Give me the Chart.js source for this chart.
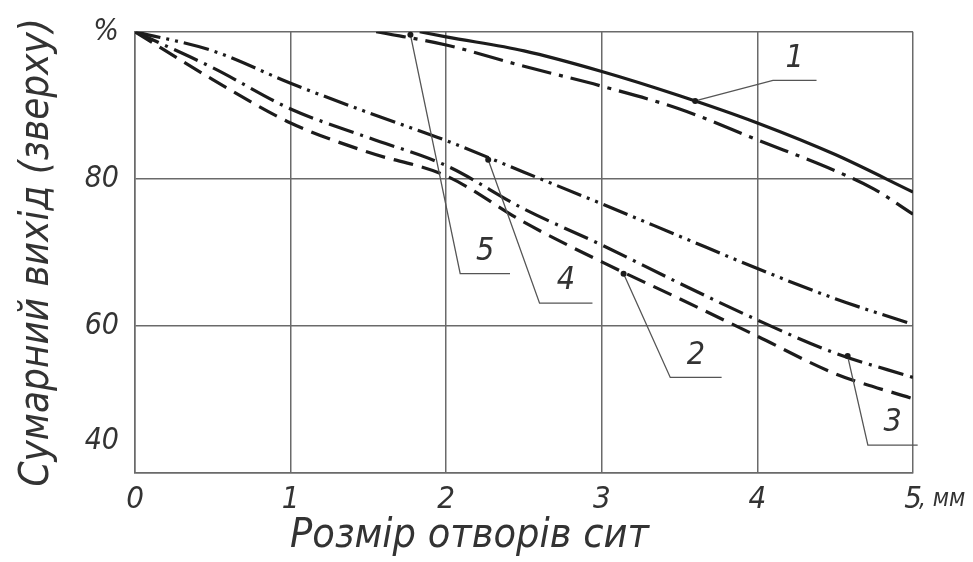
<!DOCTYPE html>
<html>
<head>
<meta charset="utf-8">
<script src="https://cdn.jsdelivr.net/npm/chart.js@4.4.1/dist/chart.umd.min.js"></script>
<style>
  html, body { margin: 0; padding: 0; background: #fff; }
  #wrap { width: 973px; height: 562px; }
</style>
</head>
<body>
<div id="wrap"><canvas id="sitaChart"></canvas></div>
<script>
// Розмір отворів сит, мм
const sieveSize = [0, 0.5, 1, 1.5, 2, 2.5, 3, 3.5, 4, 4.5, 5];
// криві 2, 3, 4 починаються з 0
const curve2 = [100, 93.5, 87.6, 83.6, 80.4, 74.1, 68.7, 63.7, 58.6, 53.5, 50.1];
const curve3 = [100, 95.1, 89.5, 85.6, 81.8, 75.9, 71.0, 65.8, 60.8, 56.3, 53.0];
const curve4 = [100, 97.4, 93.0, 89.0, 85.2, 80.9, 76.6, 72.2, 67.8, 63.7, 60.2];
// криві 1 і 5 починаються пізніше
const sieveSize1 = [1.83, 2, 2.5, 3, 3.5, 4, 4.5, 5];
const curve1 = [100, 99.3, 97.4, 94.6, 91.3, 87.6, 83.3, 78.2];
const sieveSize5 = [1.55, 2, 2.5, 3, 3.5, 4, 4.5, 4.75, 5];
const curve5 = [100, 98.2, 95.3, 92.6, 89.5, 85.3, 81.1, 78.6, 75.2];

const xTicks = [0, 1, 2, 3, 4, 5];
const yTicks = [40, 60, 80, 100];

// позначки кривих: номер, точка на кривій, злам виноски, кінець полички
const labelNames = ['1', '2', '3', '4', '5'];
const labelPoint = [[3.6, 90.6], [3.14, 67.1], [4.58, 55.9], [2.27, 82.6], [1.77, 99.6]];
const labelElbow = [[4.1, 93.4], [3.44, 53.0], [4.71, 43.8], [2.6, 63.1], [2.09, 67.1]];
const labelShelf = [[4.38, 93.4], [3.77, 53.0], [5.03, 43.8], [2.94, 63.1], [2.41, 67.1]];

const FONT = '"DejaVu Sans Condensed", "DejaVu Sans", sans-serif';
const INK = '#1c1c1c';
const GRID = '#6a6a6a';

function pts(xs, ys) {
    return xs.map((x, i) => ({ x: x, y: ys[i] }));
}

function curveSet(label, xs, ys, dash) {
    return {
        label: label,
        data: pts(xs, ys),
        borderColor: INK,
        borderWidth: 3.2,
        borderDash: dash,
        pointRadius: 0,
        fill: false,
        cubicInterpolationMode: 'monotone'
    };
}

// виноски з номерами кривих, одиниця і назва осі x
const leaderPlugin = {
    id: 'leaders',
    afterDatasetsDraw(chart) {
        const ctx = chart.ctx;
        const xs = chart.scales.x;
        const ys = chart.scales.y;
        ctx.save();
        labelNames.forEach((name, i) => {
            const p = [xs.getPixelForValue(labelPoint[i][0]), ys.getPixelForValue(labelPoint[i][1])];
            const e = [xs.getPixelForValue(labelElbow[i][0]), ys.getPixelForValue(labelElbow[i][1])];
            const s = [xs.getPixelForValue(labelShelf[i][0]), ys.getPixelForValue(labelShelf[i][1])];
            ctx.strokeStyle = '#555';
            ctx.lineWidth = 1.3;
            ctx.beginPath();
            ctx.moveTo(p[0], p[1]);
            ctx.lineTo(e[0], e[1]);
            ctx.lineTo(s[0], s[1]);
            ctx.stroke();
            ctx.fillStyle = INK;
            ctx.beginPath();
            ctx.arc(p[0], p[1], 3, 0, Math.PI * 2);
            ctx.fill();
            ctx.fillStyle = '#333';
            ctx.font = 'italic 32px ' + FONT;
            ctx.textAlign = 'center';
            ctx.textBaseline = 'bottom';
            ctx.fillText(name, (e[0] + s[0]) / 2, e[1] - 6);
        });
        ctx.fillStyle = '#333';
        ctx.font = 'italic 24px ' + FONT;
        ctx.textAlign = 'left';
        ctx.textBaseline = 'middle';
        ctx.fillText(', мм', xs.getPixelForValue(5) + 6, xs.bottom - 62);
        ctx.font = 'italic 41px ' + FONT;
        ctx.textAlign = 'center';
        ctx.fillText('Розмір отворів сит', xs.getPixelForValue(2.15), xs.bottom - 26);
        ctx.restore();
    }
};

const ctx = document.getElementById('sitaChart').getContext('2d');
const sitaChart = new Chart(ctx, {
    type: 'line',
    data: {
        datasets: [
            curveSet('1', sieveSize1, curve1, []),
            curveSet('2', sieveSize, curve2, [20, 9]),
            curveSet('3', sieveSize, curve3, [26, 7, 3, 7]),
            curveSet('4', sieveSize, curve4, [26, 6, 3, 6, 3, 6]),
            curveSet('5', sieveSize5, curve5, [30, 8, 4, 8])
        ]
    },
    options: {
        responsive: true,
        maintainAspectRatio: false,
        animation: false,
        layout: { padding: { left: 0, top: 28, right: 60, bottom: 0 } },
        plugins: {
            legend: { display: false },
            tooltip: { enabled: false }
        },
        scales: {
            x: {
                type: 'linear',
                min: 0,
                max: 5,
                afterBuildTicks: scale => { scale.ticks = xTicks.map(v => ({ value: v })); },
                afterFit: scale => { scale.height = 89; },
                grid: { color: GRID, lineWidth: 1.5, drawTicks: false },
                border: { color: GRID, width: 1.5 },
                ticks: {
                    color: '#333',
                    padding: 8,
                    maxRotation: 0,
                    font: { family: FONT, size: 31, style: 'italic' }
                }
            },
            y: {
                min: 40,
                max: 100,
                afterBuildTicks: scale => { scale.ticks = yTicks.map(v => ({ value: v })); },
                afterFit: scale => { scale.width = 135; },
                grid: { color: GRID, lineWidth: 1.5, drawTicks: false },
                border: { color: GRID, width: 1.5 },
                ticks: {
                    color: '#333',
                    padding: 16,
                    font: { family: FONT, size: 30, style: 'italic', lineHeight: 1.05 },
                    // підпис 40 у оригіналі стоїть трохи вище нижньої межі
                    callback: v => (v === 100 ? '%' : v === 40 ? ['40', '', ''] : v)
                },
                title: {
                    display: true,
                    text: 'Сумарний вихід (зверху)',
                    color: '#333',
                    padding: { top: 14, bottom: 0 },
                    font: { family: FONT, size: 40, style: 'italic' }
                }
            }
        }
    },
    plugins: [leaderPlugin]
});
</script>
</body>
</html>
